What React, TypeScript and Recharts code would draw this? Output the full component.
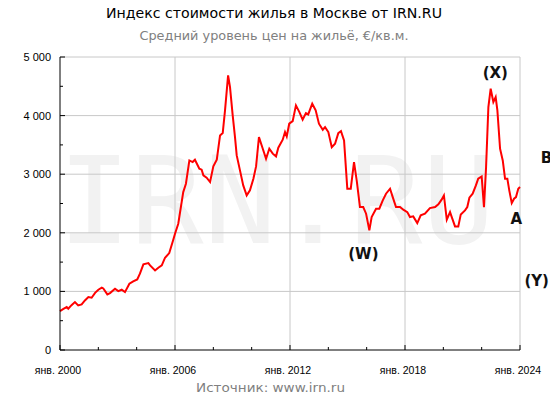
import React from 'react';
import { LineChart, Line, XAxis, YAxis, ReferenceLine, ReferenceDot } from 'recharts';

const years: number[] = [
  2000.0, 2000.18, 2000.35, 2000.43, 2000.6, 2000.78, 2000.95, 2001.13, 2001.3, 2001.48, 2001.65, 2001.83,
  2002.0, 2002.18, 2002.26, 2002.47, 2002.61, 2002.87, 2003.04, 2003.22, 2003.39, 2003.62, 2003.82,
  2004.03, 2004.17, 2004.35, 2004.61, 2004.7, 2004.96, 2005.13, 2005.31, 2005.48, 2005.7, 2005.91,
  2006.0, 2006.17, 2006.43, 2006.57, 2006.75, 2006.92, 2007.04, 2007.27, 2007.39, 2007.48, 2007.65, 2007.83,
  2008.0, 2008.18, 2008.35, 2008.49, 2008.61, 2008.77, 2008.87, 2009.01, 2009.13, 2009.22, 2009.39, 2009.56,
  2009.74, 2009.91, 2010.09, 2010.23, 2010.38, 2010.58, 2010.75, 2010.92, 2011.1, 2011.27, 2011.39, 2011.62,
  2011.74, 2011.83, 2011.96, 2012.14, 2012.31, 2012.49, 2012.66, 2012.83, 2012.95, 2013.16, 2013.34, 2013.51,
  2013.71, 2013.83, 2014.0, 2014.18, 2014.35, 2014.52, 2014.66, 2014.82, 2014.99, 2015.17, 2015.34, 2015.48,
  2015.65, 2015.82, 2015.97, 2016.14, 2016.26, 2016.49, 2016.66, 2016.84, 2017.01, 2017.22, 2017.36, 2017.53,
  2017.74, 2017.91, 2018.12, 2018.26, 2018.43, 2018.64, 2018.82, 2019.04, 2019.3, 2019.57, 2019.74, 2019.91,
  2020.03, 2020.18, 2020.35, 2020.44, 2020.61, 2020.78, 2020.91, 2021.13, 2021.25, 2021.36, 2021.53, 2021.7,
  2021.82, 2022.0, 2022.12, 2022.23, 2022.35, 2022.47, 2022.61, 2022.73, 2022.82, 2022.96, 2023.1, 2023.22,
  2023.34, 2023.44, 2023.57, 2023.69, 2023.79, 2023.91, 2024.0,
];

const prices: number[] = [
  664, 700, 732, 705, 765, 818, 761, 778, 845, 903, 892, 975,
  1029, 1063, 1050, 949, 971, 1046, 1005, 1029, 988, 1131, 1171,
  1205, 1302, 1461, 1483, 1444, 1358, 1404, 1444, 1575, 1654, 1882,
  1985, 2155, 2695, 2838, 3235, 3207, 3247, 3094, 3077, 2980, 2940, 2866,
  3133, 3247, 3662, 3701, 4089, 4686, 4486, 4003, 3633, 3321, 3065, 2809,
  2638, 2724, 2923, 3133, 3633, 3435, 3264, 3435, 3350, 3304, 3452, 3589,
  3719, 3645, 3862, 3906, 4174, 4060, 3930, 4043, 4020, 4203, 4089, 3862,
  3759, 3804, 3719, 3462, 3520, 3701, 3736, 3577, 2752, 2752, 3207, 2894,
  2439, 2439, 2326, 2041, 2268, 2411, 2411, 2553, 2667, 2752, 2609, 2439,
  2439, 2394, 2353, 2268, 2280, 2166, 2297, 2326, 2422, 2439, 2485, 2565,
  2638, 2224, 2353, 2268, 2109, 2109, 2314, 2382, 2439, 2599, 2667, 2809,
  2923, 2962, 2439, 3121, 4145, 4459, 4231, 4316, 4089, 3435, 3235, 2923,
  2923, 2724, 2507, 2582, 2609, 2752, 2780,
];

const xTicks: number[] = [2000, 2002, 2004, 2006, 2008, 2010, 2012, 2014, 2016, 2018, 2020, 2022, 2024];
const xMajor: number[] = [2000, 2006, 2012, 2018, 2024];
const xGrid: number[] = [2006, 2012, 2018, 2024];
const yTicks: number[] = [0, 500, 1000, 1500, 2000, 2500, 3000, 3500, 4000, 4500, 5000];
const yMajor: number[] = [0, 1000, 2000, 3000, 4000, 5000];
const yGrid: number[] = [1000, 2000, 3000, 4000, 5000];

const annLabels: string[] = ['(W)', '(X)', 'A', 'B', '(Y)'];
const annYears: number[] = [2015.83, 2022.71, 2023.81, 2025.38, 2024.87];
const annValues: number[] = [1643, 4720, 2229, 3275, 1174];

const title = 'Индекс стоимости жилья в Москве от IRN.RU';
const subtitle = 'Средний уровень цен на жильё, €/кв.м.';
const source = 'Источник: www.irn.ru';
const watermark = 'IRN.RU';

const data = years.map((t, i) => ({ t, price: prices[i] }));

const tickFont = '"Liberation Sans", Arial, sans-serif';
const mainFont = '"DejaVu Sans", Verdana, sans-serif';

const fmtY = (v: number) => (v >= 1000 ? `${Math.floor(v / 1000)} ${String(v % 1000).padStart(3, '0')}` : String(v));

const XTick = (props: any) => {
  const { x, y, payload } = props;
  const v = payload.value as number;
  const major = xMajor.includes(v);
  return (
    <g>
      <line x1={x} x2={x} y1={y} y2={y - (major ? 5 : 3)} stroke="#000" strokeWidth={1} />
      {major && (
        <text x={x - 2} y={y + 20} textAnchor="middle" dominantBaseline="central" fontSize={10.5} fontFamily={tickFont} fill="#000">
          {`янв. ${v}`}
        </text>
      )}
    </g>
  );
};

const YTick = (props: any) => {
  const { x, y, payload } = props;
  const v = payload.value as number;
  const major = yMajor.includes(v);
  return (
    <g>
      <line x1={x} x2={x + (major ? 5 : 3)} y1={y} y2={y} stroke="#000" strokeWidth={1} />
      {major && (
        <text x={x - 9} y={y} textAnchor="end" dominantBaseline="central" fontSize={11} fontFamily={tickFont} fill="#000">
          {fmtY(v)}
        </text>
      )}
    </g>
  );
};

const makeLabel = (label: string) => (props: any) => (
  <text
    x={props.cx}
    y={props.cy}
    textAnchor="middle"
    dominantBaseline="central"
    fontSize={15}
    fontWeight="bold"
    fontFamily={mainFont}
    fill="#111"
  >
    {label}
  </text>
);

export default function App() {
  return (
    <div style={{ position: 'absolute', left: 0, top: 0, width: 550, height: 400, background: '#fff', overflow: 'hidden' }}>
      <svg width={550} height={400} style={{ position: 'absolute', left: 0, top: 0 }}>
        <text x={58} y={243} fontSize={121} fontFamily='"DejaVu Sans Mono", monospace' fill="#f2f2f2">
          {watermark}
        </text>
        <text x={274} y={18} textAnchor="middle" fontSize={13.7} textLength={336} lengthAdjust="spacingAndGlyphs" fontFamily={mainFont} fill="#000">
          {title}
        </text>
        <text x={274} y={39.5} textAnchor="middle" fontSize={12.3} textLength={269} lengthAdjust="spacingAndGlyphs" fontFamily={mainFont} fill="#808080">
          {subtitle}
        </text>
        <text x={270.5} y={392} textAnchor="middle" fontSize={12.5} textLength={149} lengthAdjust="spacingAndGlyphs" fontFamily={mainFont} fill="#808080">
          {source}
        </text>
      </svg>
      <div style={{ position: 'absolute', left: 0, top: 0 }}>
        <LineChart width={550} height={400} data={data} margin={{ top: 57, right: 30, bottom: 0, left: 0 }}>
          {yGrid.map((v) => (
            <ReferenceLine key={`gy${v}`} y={v} stroke="#c8c8c8" strokeWidth={1} />
          ))}
          {xGrid.map((v) => (
            <ReferenceLine key={`gx${v}`} x={v} stroke="#c8c8c8" strokeWidth={1} />
          ))}
          <XAxis
            dataKey="t"
            type="number"
            domain={[2000, 2024]}
            ticks={xTicks}
            interval={0}
            height={50}
            tickSize={0}
            tickMargin={0}
            tickLine={false}
            axisLine={{ stroke: '#000' }}
            tick={<XTick />}
          />
          <YAxis
            type="number"
            domain={[0, 5000]}
            ticks={yTicks}
            interval={0}
            width={60}
            tickSize={0}
            tickMargin={0}
            tickLine={false}
            axisLine={{ stroke: '#000' }}
            tick={<YTick />}
          />
          <Line
            type="linear"
            dataKey="price"
            stroke="#ff0000"
            strokeWidth={2}
            dot={false}
            isAnimationActive={false}
          />
          {annLabels.map((label, i) => (
            <ReferenceDot
              key={label}
              x={annYears[i]}
              y={annValues[i]}
              r={0}
              ifOverflow="visible"
              shape={makeLabel(label)}
            />
          ))}
        </LineChart>
      </div>
    </div>
  );
}
